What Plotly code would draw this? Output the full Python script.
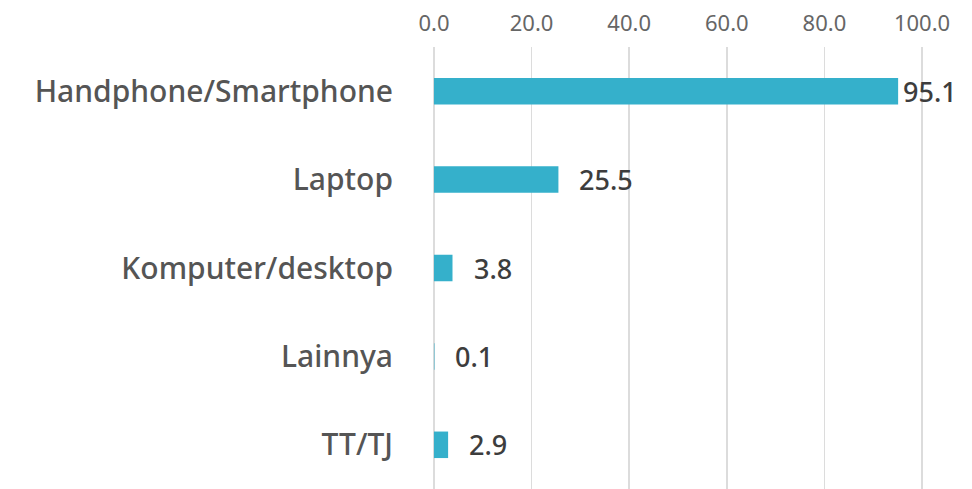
import plotly.graph_objects as go

categories = ["Handphone/Smartphone", "Laptop", "Komputer/desktop", "Lainnya", "TT/TJ"]
values = [95.1, 25.5, 3.8, 0.1, 2.9]
tick_vals = [0, 20, 40, 60, 80, 100]
tick_text = ["0.0", "20.0", "40.0", "60.0", "80.0", "100.0"]

FONT = "Noto Sans"
fig = go.Figure()
fig.add_trace(go.Bar(
    y=categories, x=values, orientation="h",
    marker=dict(color="#35B0CB", line=dict(width=0)),
    width=0.3, hoverinfo="skip",
))
for c, v in zip(categories, values):
    fig.add_annotation(x=v, y=c, text=f"{v:.1f}", showarrow=False,
                       xanchor="left", xshift=3 if v > 90 else 19,
                       font=dict(family=FONT, size=27, color="#3d3d3d", weight=500))

fig.update_layout(
    width=972, height=489,
    margin=dict(l=432, r=48, t=47, b=0, autoexpand=False),
    paper_bgcolor="white", plot_bgcolor="white",
    showlegend=False,
    font=dict(family=FONT),
)
fig.update_xaxes(side="top", range=[-0.4, 100.4], tickvals=tick_vals, ticktext=tick_text,
                 showgrid=True, gridcolor="#DCDCDC", gridwidth=1.5, zeroline=False,
                 showline=False, ticks="", tickfont=dict(size=22, color="#666666"),
                 ticklabelstandoff=11, automargin=False, fixedrange=True)
fig.update_yaxes(categoryorder="array", categoryarray=categories, autorange="reversed",
                 showgrid=False, showline=False, ticks="", automargin=False, fixedrange=True,
                 tickfont=dict(size=30, color="#555555", weight=500), ticklabelstandoff=38)

fig.write_html(
    "out.html",
    config={"displayModeBar": False, "staticPlot": True},
    post_script="document.body.style.margin='0';document.body.style.padding='0';",
)
